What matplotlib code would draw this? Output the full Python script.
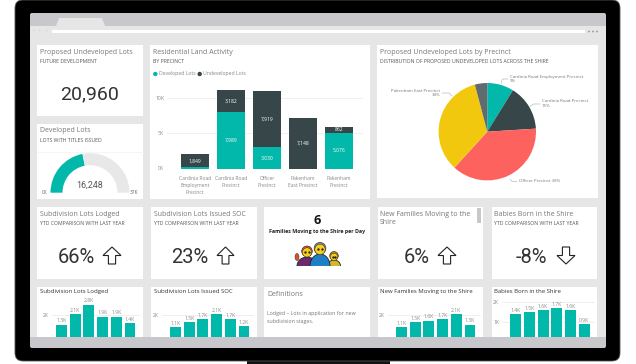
import matplotlib
matplotlib.use("Agg")
import matplotlib.pyplot as plt
from matplotlib.patches import FancyBboxPatch, Rectangle, Polygon, Circle, Ellipse

W, H = 636, 364
plt.rcParams['font.family'] = ['Open Sans', 'DejaVu Sans']

TEAL = '#01B8AA'; DARK = '#374649'; CORAL = '#FD625E'; YELLOW = '#F2C80F'; SLATE = '#5F6B6D'
TXT = '#777777'; BODY = '#333333'

# ---- data ----
precincts = ['Cardinia Road\nEmployment\nPrecinct', 'Cardinia Road\nPrecinct', 'Officer\nPrecinct',
             'Pakenham\nEast Precinct', 'Pakenham\nPrecinct']
developed = [153, 7989, 3030, 0, 5076]
undeveloped = [1849, 3182, 7919, 7148, 862]
pie_names = ['Cardinia Road Employment Precinct', 'Cardinia Road Precinct', 'Officer Precinct',
             'Pakenham East Precinct', 'Pakenham Precinct']
gauge_value, gauge_max = 16248, 37000
total_undeveloped = 20960
lodged = [1.3, 2.1, 2.8, 1.9, 1.9, 1.4]
issued = [1.1, 1.5, 1.7, 2.1, 1.7, 1.2]
families = [1.1, 1.5, 1.6, 1.7, 2.1, 1.3]
babies = [1.4, 1.5, 1.6, 1.7, 1.6, 0.9]
kpi_labels = ['66%', '23%', '6%', '-8%']

fig = plt.figure(figsize=(W/100, H/100), dpi=100, facecolor='white')
ax = fig.add_axes([0, 0, 1, 1]); ax.set_xlim(0, W); ax.set_ylim(H, 0); ax.axis('off')

def px_axes(x0, y0, x1, y1):
    a = fig.add_axes([x0/W, 1-y1/H, (x1-x0)/W, (y1-y0)/H])
    a.patch.set_alpha(0)
    for s in a.spines.values(): s.set_visible(False)
    return a

def rect(x0, y0, x1, y1, c, z=1):
    ax.add_patch(Rectangle((x0, y0), x1-x0, y1-y0, fc=c, ec='none', zorder=z))

def t(x, y, s, size=5, color=TXT, ha='left', va='center', **k):
    ax.text(x, y, s, fontsize=size, color=color, ha=ha, va=va, zorder=5, **k)

# ---- monitor chrome ----
rect(247, 358, 390, 364, '#111111', 0)
ax.add_patch(FancyBboxPatch((18, 3), 599, 355, boxstyle='round,pad=3,rounding_size=8', fc='#000000', ec='#555555', lw=0.6, zorder=1))
ax.add_patch(FancyBboxPatch((31, 14), 574, 333, boxstyle='round,pad=1,rounding_size=2', fc='#C8C8CC', ec='none', zorder=1))
rect(30, 26, 606, 337, '#E6E6E6', 2)
ax.add_patch(Polygon([(56, 26), (59, 18), (102, 18), (105, 26)], fc='#E6E6E6', ec='none', zorder=2))
rect(52, 30, 585, 33, 'white', 3)
for x in (33, 39, 46):
    t(x, 31.5, '\u2022', 3, '#BBBBBB', ha='center')
for x in (589, 593, 597):
    ax.add_patch(Circle((x, 31.5), 0.9, fc='#999999', ec='none', zorder=3))

cards = [(37, 45, 143, 116), (37, 124, 143, 199), (150, 45, 370, 199), (377, 45, 598, 198),
         (37, 207, 143, 279), (151, 207, 257, 279), (264, 207, 370, 279), (378, 207, 483, 279), (492, 207, 597, 279),
         (37, 287, 143, 337), (151, 287, 257, 337), (264, 287, 370, 337), (378, 287, 483, 337), (492, 287, 597, 337)]
for c in cards:
    rect(*c, 'white', 3)

TS, SS = 5.05, 3.7
def title(x, y, s, sub=None):
    t(x, y, s, TS, '#777777')
    if sub:
        t(x, y+9.5, sub, SS, '#555555')

title(40, 52, 'Proposed Undeveloped Lots', 'FUTURE DEVELOPMENT')
t(90, 94.5, f'{total_undeveloped:,}', 14, BODY, ha='center', family='Roboto')
title(40, 131, 'Developed Lots', 'LOTS WITH TITLES ISSUED')
ax.plot([37, 143], [152, 152], color='#F4F4F4', lw=0.6, zorder=4)
title(153, 52, 'Residential Land Activity', 'BY PRECINCT')
title(380, 52, 'Proposed Undeveloped Lots by Precinct', 'DISTRIBUTION OF PROPOSED UNDEVELOPED LOTS ACROSS THE SHIRE')

# ---- gauge ----
R = 39.5
g = px_axes(90-R, 192.7-R, 90+R, 192.7+R)
g.pie([gauge_value, gauge_max-gauge_value, gauge_max], startangle=180, counterclock=False, radius=1,
      colors=[TEAL, '#E8E8E8', 'none'], wedgeprops={'width': 12/R, 'lw': 0})
g.set_xlim(-1, 1); g.set_ylim(-1, 1)
t(89.5, 185, f'{gauge_value:,}', 6.4, '#555555', ha='center', family='Roboto')
t(45, 192, '0K', 3.4, '#666666', ha='center')
t(134, 192, f'{round(gauge_max/1000)}K', 3.4, '#666666', ha='center')

# ---- stacked bars ----
ax.add_patch(Circle((155.3, 74), 2.2, fc=TEAL, ec='none', zorder=5))
t(158.7, 74, 'Developed Lots', 3.7, '#888888')
ax.add_patch(Circle((199.7, 74), 2.2, fc=DARK, ec='none', zorder=5))
t(203, 74, 'Undeveloped Lots', 3.7, '#888888')

s = px_axes(167, 86, 363, 168.5)
px_per_k = 7.04
s.set_ylim(0, 82.5/px_per_k*1000)
s.set_xlim((167-195)/36, (363-195)/36)
xs = list(range(len(precincts)))
s.bar(xs, developed, width=28/36, color=TEAL, zorder=3)
s.bar(xs, undeveloped, width=28/36, bottom=developed, color=DARK, zorder=3)
s.set_axisbelow(True)
s.set_yticks([0, 5000, 10000], ['0K', '5K', '10K'], fontsize=3.7, color='#888888')
s.set_xticks(xs, precincts, fontsize=3.6, color='#888888', linespacing=1.45)
s.tick_params(length=0, pad=2)
s.tick_params(axis='x', pad=5.5)
s.grid(axis='y', color='#F0F0F0', lw=0.7)
for i in xs:
    if developed[i] > 1000:
        s.text(i, developed[i]/2, f'{developed[i]:,}', color='white', ha='center', va='center', fontsize=3.6, zorder=4)
    s.text(i, developed[i]+undeveloped[i]/2, f'{undeveloped[i]:,}', color='white', ha='center', va='center', fontsize=3.6, zorder=4)

# ---- pie ----
PR = 48.7
p = px_axes(487.3-PR, 131.7-PR, 487.3+PR, 131.7+PR)
p.pie(undeveloped, startangle=90, counterclock=False, radius=1, colors=[TEAL, DARK, CORAL, YELLOW, SLATE], wedgeprops={'lw': 0})
p.set_xlim(-1, 1); p.set_ylim(-1, 1)
tot = sum(undeveloped)
pct = [f'{round(v/tot*100)}%' for v in undeveloped]
LS, LC = 3.2, '#777777'
t(510, 77, pie_names[0], LS, LC); t(510, 81.3, pct[0], LS, LC)
t(542, 101, pie_names[1], LS, LC); t(542, 105.7, pct[1], LS, LC)
t(519, 181, f'{pie_names[2]} {pct[2]}', LS, LC)
t(440, 91, pie_names[3], LS, LC, ha='right'); t(440, 95.3, pct[3], LS, LC, ha='right')
for xy in ([(501, 83.5), (502.5, 79), (508, 79)], [(530, 106.5), (533.5, 104), (540, 104)],
           [(510, 179), (512, 181.5), (517, 181.5)], [(442, 93), (449, 93), (452, 96)]):
    ax.plot(*zip(*xy), color='#AAAAAA', lw=0.4, zorder=5)

# ---- KPI row ----
title(40, 214, 'Subdivision Lots Lodged', 'YTD COMPARISON WITH LAST YEAR')
title(153.5, 214, 'Subdivision Lots Issued SOC', 'YTD COMPARISON WITH LAST YEAR')
t(380, 214, 'New Families Moving to the', TS, '#777777'); t(380, 223, 'Shire', TS, '#777777')
rect(477, 208, 481, 223, '#C8C8C8', 4)
title(494, 214, 'Babies Born in the Shire', 'YTD COMPARISON WITH LAST YEAR')

def arrow(x0, x1, y0, y1, up=True):
    cx = (x0+x1)/2; w = (x1-x0)
    ytip, ybase = (y0, y1) if up else (y1, y0)
    yneck = ytip + (ybase-ytip)*0.5
    pts = [(cx, ytip), (x1, yneck), (cx+w*0.2, yneck), (cx+w*0.2, ybase), (cx-w*0.2, ybase), (cx-w*0.2, yneck), (x0, yneck)]
    ax.add_patch(Polygon(pts, closed=True, fc='white', ec='#222222', lw=0.8, joinstyle='miter', zorder=5))

BIG = 14.5
t(76.5, 257.5, kpi_labels[0], BIG, BODY, ha='center', family='Roboto'); arrow(103, 121, 247, 264)
t(190, 257.5, kpi_labels[1], BIG, BODY, ha='center', family='Roboto'); arrow(217, 234, 247, 264)
t(416.5, 257.5, kpi_labels[2], BIG, BODY, ha='center', family='Roboto'); arrow(438, 456, 247, 264)
t(531.5, 257.5, kpi_labels[3], BIG, BODY, ha='center', family='Roboto'); arrow(557, 575, 247, 264, up=False)

t(317, 221, '6', 9, '#111111', ha='center', fontweight='bold')
t(317.5, 231.5, 'Families Moving to the Shire per Day', 3.75, '#222222', ha='center', fontweight='bold')

# people icon
def person(cx, face_y, r, hair, body, bw, btop):
    ax.add_patch(Ellipse((cx, 266), bw, 2*(266-btop), fc=body, ec='#222222', lw=0.6, zorder=5))
    ax.add_patch(Circle((cx, face_y-0.7), r+0.7, fc=hair, ec='#222222', lw=0.4, zorder=6))
    ax.add_patch(Circle((cx, face_y+0.4), r, fc='#F5CE1E', ec='#222222', lw=0.3, zorder=7))
    ax.plot([cx-r*0.4, cx+r*0.4], [face_y]*2, ls='none', marker='o', ms=0.7, color='#222222', zorder=8)
ax.add_patch(Ellipse((297, 257), 4, 7, fc='#D9522B', ec='#222222', lw=0.3, zorder=4.5))
person(307, 252, 4.6, '#D9522B', '#6B2A6B', 20, 257)
person(334, 256.5, 3.6, '#B58A1E', '#D5B62A', 13, 260)
person(320, 249, 5.2, '#888888', '#1F7FC4', 20, 254)
rect(290, 266, 345, 279, 'white', 9)

# ---- definitions ----
t(267, 294.5, 'Definitions', 5.0, '#777777')
t(267, 313, 'Lodged \u2013 Lots in application for new', 3.8, '#777777')
t(267, 322, 'subdivision stages.', 3.8, '#777777')

# ---- mini bars ----
def mini(vals, name, tx, first, gl, gr, ticks, tickv, k_px, y2k):
    t(tx, 291.5, name, 4.3, '#333333')
    a = px_axes(gl, 295, gr, 337)
    sp = 13.7
    a.set_xlim((gl-first)/sp, (gr-first)/sp)
    a.set_ylim(2-(337-y2k)/k_px, 2+(y2k-295)/k_px)
    xp = list(range(len(vals)))
    a.bar(xp, vals, width=0.8, color=TEAL, zorder=3)
    a.set_xticks([])
    a.set_yticks(tickv, ticks, fontsize=3.6, color='#888888')
    a.tick_params(length=0, pad=2)
    a.grid(axis='y', color='#EDEDED', lw=0.6)
    a.set_axisbelow(True)
    for i, v in zip(xp, vals):
        a.text(i, v+0.1*(13.4/k_px), f'{v:.1f}K', ha='center', va='bottom', fontsize=3.6, color='#888888', clip_on=False)

mini(lodged, 'Subdivision Lots Lodged', 40, 61.5, 52, 141, ['2K'], [2], 13.4, 315.3)
mini(issued, 'Subdivision Lots Issued SOC', 153.5, 175.5, 162, 254, ['2K'], [2], 13.4, 315.3)
mini(families, 'New Families Moving to the Shire', 380, 401.5, 388, 481, ['2K'], [2], 13.4, 315.3)
mini(babies, 'Babies Born in the Shire', 494, 515.7, 502, 595, ['1K', '2K'], [1, 2], 20, 302)

fig.savefig('out.png', dpi=100)
